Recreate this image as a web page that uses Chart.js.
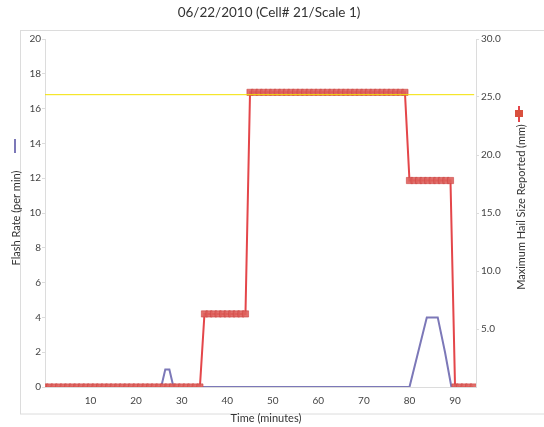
<!DOCTYPE html>
<html>
<head>
<meta charset="utf-8">
<script src="https://cdn.jsdelivr.net/npm/chart.js@4/dist/chart.umd.min.js"></script>
<style>
  html, body { margin: 0; padding: 0; background: #fff; }
  #c { display: block; }
</style>
</head>
<body>
<canvas id="c" width="544" height="427"></canvas>
<script>
// Minute marks for the hail reports
const minutes = [
   0,  1,  2,  3,  4,  5,  6,  7,  8,  9, 10, 11, 12, 13, 14, 15, 16, 17, 18, 19,
  20, 21, 22, 23, 24, 25, 26, 27, 28, 29, 30, 31, 32, 33, 34, 35, 36, 37, 38, 39,
  40, 41, 42, 43, 44, 45, 46, 47, 48, 49, 50, 51, 52, 53, 54, 55, 56, 57, 58, 59,
  60, 61, 62, 63, 64, 65, 66, 67, 68, 69, 70, 71, 72, 73, 74, 75, 76, 77, 78, 79,
  80, 81, 82, 83, 84, 85, 86, 87, 88, 89, 90, 91, 92, 93, 94
];

// Maximum hail size reported (mm), one value per minute
const hailSizeMm = [
   0, 0, 0, 0, 0, 0, 0, 0, 0, 0, 0, 0, 0, 0, 0, 0, 0, 0, 0, 0,
   0, 0, 0, 0, 0, 0, 0, 0, 0, 0, 0, 0, 0, 0, 0, 6.3, 6.3, 6.3, 6.3, 6.3,
   6.3, 6.3, 6.3, 6.3, 6.3, 25.4, 25.4, 25.4, 25.4, 25.4, 25.4, 25.4, 25.4, 25.4, 25.4, 25.4, 25.4, 25.4, 25.4, 25.4,
   25.4, 25.4, 25.4, 25.4, 25.4, 25.4, 25.4, 25.4, 25.4, 25.4, 25.4, 25.4, 25.4, 25.4, 25.4, 25.4, 25.4, 25.4, 25.4, 25.4,
   17.8, 17.8, 17.8, 17.8, 17.8, 17.8, 17.8, 17.8, 17.8, 17.8, 0, 0, 0, 0, 0
];

// Lightning flash rate (per min)
const flashTimes = [0, 25.5, 26.4, 27.3, 28.2, 80.0, 83.8, 86.2, 87.8, 89.2, 90.5];
const flashRates = [0,    0,    1,    1,    0,    0,    4,    4,    2,    0,    0];

// Reference hail size line (mm)
const refLineTimes = [0, 94.2];
const refLineMm = [25.2, 25.2];

// Axis ticks
const timeTicks = [10, 20, 30, 40, 50, 60, 70, 80, 90];
const flashTicks = [0, 2, 4, 6, 8, 10, 12, 14, 16, 18, 20];
const hailTicks = [5, 10, 15, 20, 25, 30];

const FONT = 'Lato, "Open Sans", sans-serif';
const RED = '#e4464a';
const PURPLE = '#7c78b8';

const hailPoints = minutes.map((m, i) => ({ x: m, y: hailSizeMm[i] }));
const flashPoints = flashTimes.map((t, i) => ({ x: t, y: flashRates[i] }));
const refPoints = refLineTimes.map((t, i) => ({ x: t, y: refLineMm[i] }));

// Frame, title, axis titles and the small series keys beside them
const decorations = {
  id: 'decorations',
  beforeDraw(chart) {
    const ctx = chart.ctx;
    ctx.save();
    ctx.strokeStyle = '#dcdcdc';
    ctx.lineWidth = 1;
    ctx.strokeRect(20.5, 30.5, 600, 383.5);
    ctx.restore();
  },
  afterDraw(chart) {
    const ctx = chart.ctx;
    ctx.save();
    ctx.fillStyle = '#333';
    ctx.textAlign = 'center';
    ctx.textBaseline = 'middle';
    ctx.font = '13.5px ' + FONT;
    ctx.fillText('06/22/2010 (Cell# 21/Scale 1)', 269, 13);

    ctx.font = '11px ' + FONT;
    ctx.fillText('Time (minutes)', 266, 418);

    ctx.save();
    ctx.translate(16, 218);
    ctx.rotate(-Math.PI / 2);
    ctx.fillText('Flash Rate (per min)', 0, 0);
    ctx.restore();

    ctx.save();
    ctx.translate(521, 207);
    ctx.rotate(-Math.PI / 2);
    ctx.fillText('Maximum Hail Size Reported (mm)', 0, 0);
    ctx.restore();

    // key for the flash rate series
    ctx.strokeStyle = PURPLE;
    ctx.lineWidth = 2;
    ctx.beginPath();
    ctx.moveTo(15, 139);
    ctx.lineTo(15, 153);
    ctx.stroke();

    // key for the hail size series
    ctx.strokeStyle = RED;
    ctx.lineWidth = 2;
    ctx.beginPath();
    ctx.moveTo(519, 106);
    ctx.lineTo(519, 122);
    ctx.stroke();
    ctx.fillStyle = '#d9503e';
    ctx.fillRect(515, 110, 8, 7);
    ctx.restore();
  }
};

new Chart(document.getElementById('c'), {
  type: 'line',
  data: {
    datasets: [
      {
        label: 'Reference',
        data: refPoints,
        yAxisID: 'y1',
        borderColor: '#f3e100',
        borderWidth: 1,
        pointRadius: 0,
        order: 0
      },
      {
        label: 'Maximum Hail Size Reported (mm)',
        data: hailPoints,
        yAxisID: 'y1',
        borderColor: RED,
        borderWidth: 2,
        pointStyle: 'rect',
        pointRadius: 4.4,
        pointBackgroundColor: 'rgba(222,96,92,0.9)',
        pointBorderColor: 'rgba(205,70,68,0.6)',
        pointBorderWidth: 1,
        order: 1
      },
      {
        label: 'Flash Rate (per min)',
        data: flashPoints,
        yAxisID: 'y',
        borderColor: PURPLE,
        borderWidth: 2,
        pointRadius: 0,
        order: 2
      }
    ]
  },
  options: {
    responsive: false,
    animation: false,
    devicePixelRatio: 1,
    layout: { padding: { top: 39, left: 0, right: 0, bottom: 0 } },
    plugins: {
      legend: { display: false },
      title: { display: false },
      tooltip: { enabled: false }
    },
    scales: {
      x: {
        type: 'linear',
        position: 'bottom',
        min: 0,
        max: 94.6,
        afterFit(s) { s.height = 40; },
        afterBuildTicks(s) { s.ticks = timeTicks.map(v => ({ value: v })); },
        grid: { display: false, drawTicks: false },
        border: { display: true, color: '#dcdcdc', width: 1 },
        ticks: {
          autoSkip: false,
          maxRotation: 0,
          padding: 8,
          color: '#444',
          font: { family: FONT, size: 10 }
        }
      },
      y: {
        position: 'left',
        min: 0,
        max: 20,
        afterFit(s) { s.width = 45; },
        afterBuildTicks(s) { s.ticks = flashTicks.map(v => ({ value: v })); },
        grid: { drawOnChartArea: false, drawTicks: true, tickLength: 3, color: '#dcdcdc' },
        border: { display: true, color: '#dcdcdc', width: 1 },
        ticks: {
          padding: 1,
          color: '#444',
          font: { family: FONT, size: 10 }
        }
      },
      y1: {
        position: 'right',
        min: 0,
        max: 30,
        afterFit(s) { s.width = 68; },
        afterBuildTicks(s) { s.ticks = hailTicks.map(v => ({ value: v })); },
        grid: { drawOnChartArea: false, drawTicks: true, tickLength: 3, color: '#dcdcdc' },
        border: { display: true, color: '#dcdcdc', width: 1 },
        ticks: {
          padding: 2,
          color: '#444',
          font: { family: FONT, size: 10 },
          callback: v => Number(v).toFixed(1)
        }
      }
    }
  },
  plugins: [decorations]
});
</script>
</body>
</html>
